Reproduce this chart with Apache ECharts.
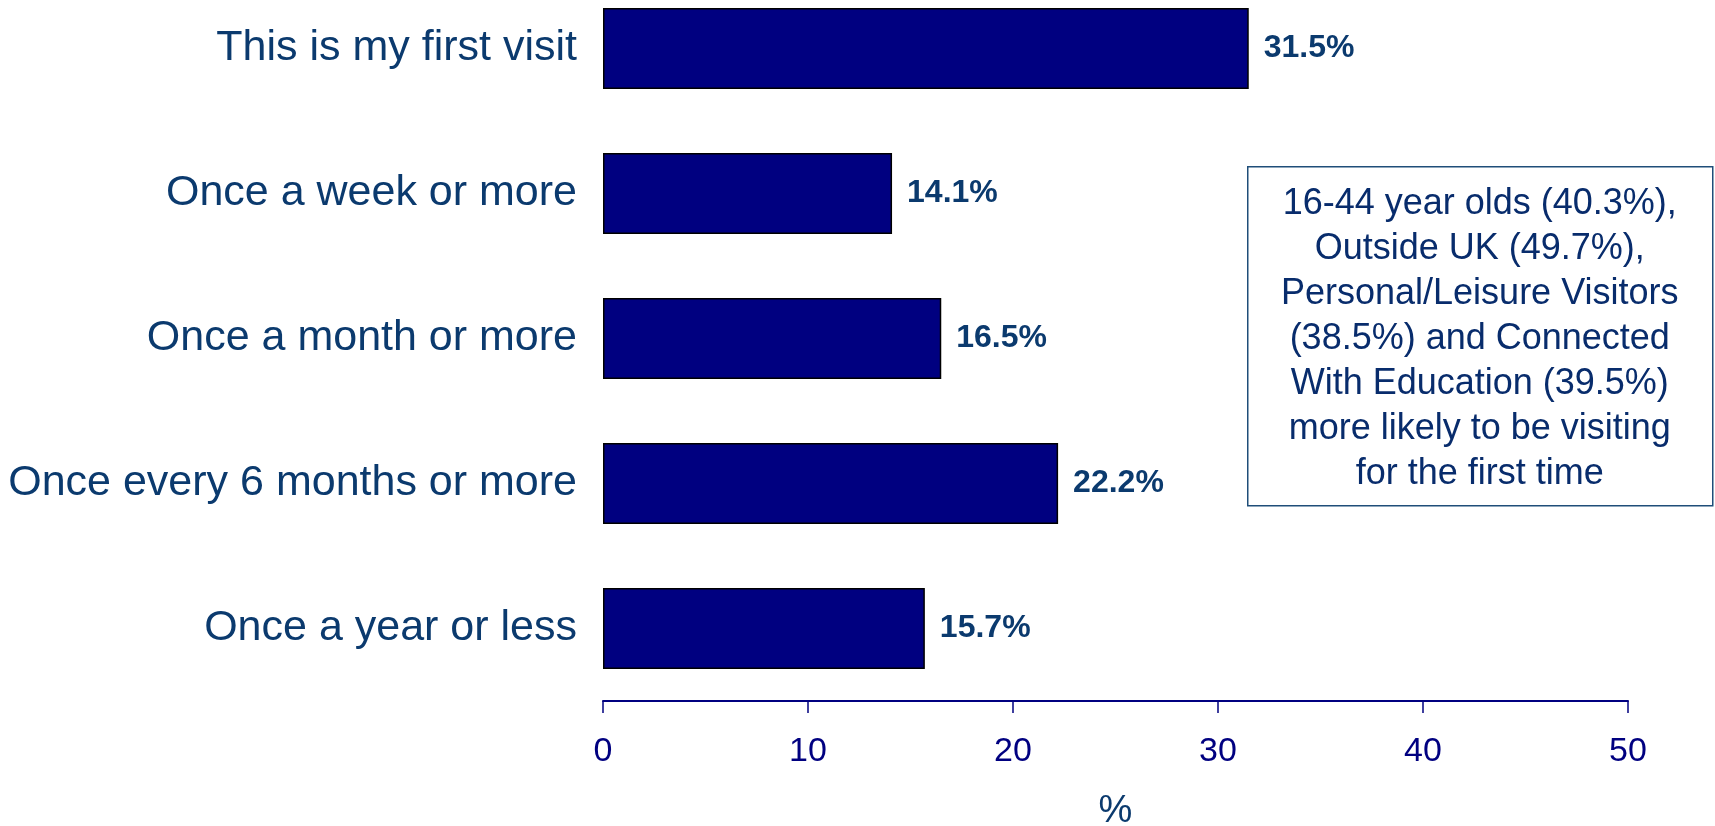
<!DOCTYPE html>
<html>
<head>
<meta charset="utf-8">
<script src="https://cdn.jsdelivr.net/npm/echarts@6/dist/echarts.min.js"></script>
<style>
  html, body { margin: 0; padding: 0; background: #ffffff; }
  #chart { width: 1715px; height: 826px; }
</style>
</head>
<body>
<div id="chart"></div>
<script>
// Visit frequency categories, top to bottom
const categories = [
  'This is my first visit',
  'Once a week or more',
  'Once a month or more',
  'Once every 6 months or more',
  'Once a year or less'
];
// Share of respondents (%)
const shares = [31.5, 14.1, 16.5, 22.2, 15.7];
// Value axis ticks
const axisTicks = [0, 10, 20, 30, 40, 50];
// Call-out text lines
const noteLines = [
  '16-44 year olds (40.3%),',
  'Outside UK (49.7%),',
  'Personal/Leisure Visitors',
  '(38.5%) and Connected',
  'With Education (39.5%)',
  'more likely to be visiting',
  'for the first time'
];

const FONT = 'Liberation Sans, Arial, Helvetica, sans-serif';
const NARROW = 'Liberation Sans Narrow, Arial Narrow, Liberation Sans, sans-serif';
const TEXT_BLUE = '#0b3a6e';
const AXIS_BLUE = '#000080';

const chart = echarts.init(document.getElementById('chart'), null, { renderer: 'canvas' });

chart.setOption({
  animation: false,
  backgroundColor: '#ffffff',
  grid: {
    left: 603, right: 87, top: -24, bottom: 125,
    containLabel: false,
    outerBoundsMode: 'none'
  },
  xAxis: {
    type: 'value',
    min: axisTicks[0],
    max: axisTicks[axisTicks.length - 1],
    interval: axisTicks[1] - axisTicks[0],
    name: '%',
    nameLocation: 'middle',
    nameGap: 92,
    nameTextStyle: { fontFamily: FONT, fontSize: 38, color: TEXT_BLUE },
    axisLine: { show: true, lineStyle: { color: AXIS_BLUE, width: 2 } },
    axisTick: { show: true, length: 12, inside: false, lineStyle: { color: AXIS_BLUE, width: 1.5 } },
    axisLabel: { fontFamily: NARROW, fontSize: 34, color: AXIS_BLUE, margin: 34 },
    splitLine: { show: false }
  },
  yAxis: {
    type: 'category',
    inverse: true,
    data: categories,
    axisLine: { show: false },
    axisTick: { show: false },
    axisLabel: { fontFamily: FONT, fontSize: 43, color: TEXT_BLUE, margin: 26 }
  },
  series: [{
    type: 'bar',
    data: shares,
    barCategoryGap: '44%',
    itemStyle: { color: '#000080', borderColor: '#000000', borderWidth: 1.5 },
    label: {
      show: true,
      position: 'right',
      distance: 15,
      formatter: p => p.value.toFixed(1) + '%',
      fontFamily: FONT,
      fontSize: 32,
      fontWeight: 'bold',
      color: TEXT_BLUE
    }
  }],
  graphic: [{
    type: 'group',
    left: 1247,
    top: 166,
    children: [{
      type: 'rect',
      shape: { x: 0, y: 0, width: 465, height: 339 },
      style: { fill: '#ffffff', stroke: '#1f4e79', lineWidth: 1.5 }
    }, {
      type: 'text',
      x: 232,
      y: 172,
      style: {
        text: noteLines.join('\n'),
        fontFamily: FONT,
        fontSize: 36,
        lineHeight: 45,
        fill: '#082c6c',
        align: 'center',
        verticalAlign: 'middle'
      }
    }]
  }]
});
</script>
</body>
</html>
